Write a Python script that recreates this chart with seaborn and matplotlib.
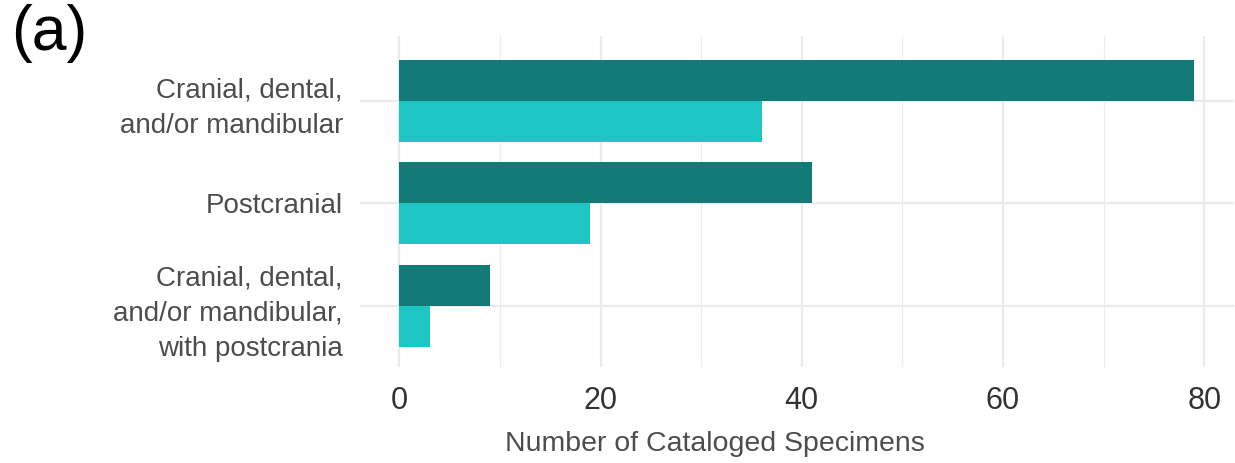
import matplotlib
matplotlib.use("Agg")
import matplotlib.pyplot as plt
from matplotlib.ticker import MultipleLocator
import seaborn as sns
import pandas as pd

categories = [
    "Cranial, dental,\nand/or mandibular",
    "Postcranial",
    "Cranial, dental,\nand/or mandibular,\nwith postcrania",
]
groups = ["Total", "Subset"]
total_counts = [79, 41, 9]
subset_counts = [36, 19, 3]
palette = ["#127A77", "#1DC6C4"]

df = pd.DataFrame({
    "category": categories * 2,
    "group": [groups[0]] * 3 + [groups[1]] * 3,
    "count": total_counts + subset_counts,
})

sns.set_style("white")
plt.rcParams["font.family"] = ["Liberation Sans", "DejaVu Sans"]

W, H = 1235, 463
left, right, top, bottom = 359.6, 1233.9, 35.7, 367.3
fig = plt.figure(figsize=(W / 100, H / 100), dpi=100)
ax = fig.add_axes([left / W, 1 - bottom / H, (right - left) / W, (bottom - top) / H])

sns.barplot(data=df, y="category", x="count", hue="group", order=categories,
            hue_order=groups, palette=palette, orient="h", width=0.8,
            saturation=1, linewidth=0, legend=False, ax=ax, zorder=3)

ax.set_xlim(-3.95, 82.95)
ax.set_ylim(2.597, -0.633)
ax.xaxis.set_major_locator(MultipleLocator(20))
ax.xaxis.set_minor_locator(MultipleLocator(10))
ax.grid(True, which="major", axis="both", color="#EBEBEB", linewidth=1.6, zorder=0)
ax.grid(True, which="minor", axis="x", color="#EBEBEB", linewidth=0.8, zorder=0)
ax.set_axisbelow(True)
for s in ax.spines.values():
    s.set_visible(False)

ax.tick_params(axis="both", which="both", length=0)
ax.tick_params(axis="x", labelsize=22, labelcolor="#333333", pad=13.5)
ax.tick_params(axis="y", labelsize=20, labelcolor="#4D4D4D", pad=12)
for lbl in ax.get_yticklabels():
    lbl.set_horizontalalignment("right")
    lbl.set_multialignment("right")
    lbl.set_linespacing(1.45)

ax.set_ylabel("")
ax.set_xlabel("Number of Cataloged Specimens", fontsize=20.5, color="#4D4D4D", labelpad=11)
# x is in axes fraction; vertical placement stays automatic
ax.xaxis.label.set_x((715 - left) / (right - left))

fig.text(11 / W, 1 - 4 / H, "(a)", fontsize=45, color="black", ha="left", va="top")

fig.savefig("out.png", dpi=100, facecolor="white")
